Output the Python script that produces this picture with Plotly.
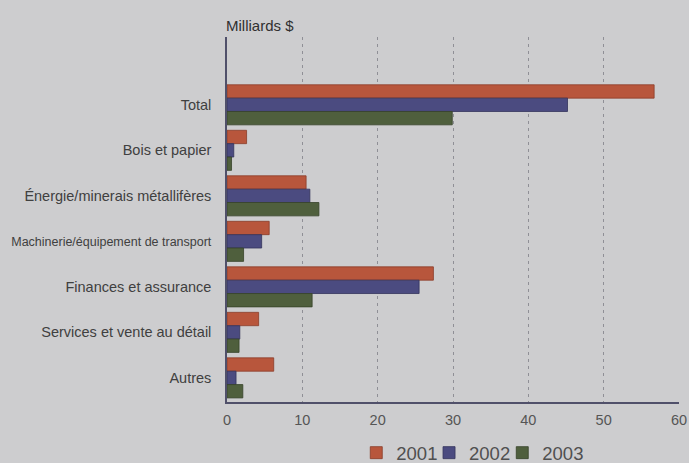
import plotly.graph_objects as go

categories = ["Total", "Bois et papier", "Énergie/minerais métallifères",
              "Machinerie/équipement de transport", "Finances et assurance",
              "Services et vente au détail", "Autres"]
tick_labels = ["Total", "Bois et papier", "Énergie/minerais métallifères",
               "<span style='font-size:12.5px'>Machinerie/équipement de transport</span>",
               "Finances et assurance", "Services et vente au détail", "Autres"]
years = ["2001", "2002", "2003"]
v2001 = [56.7, 2.6, 10.5, 5.6, 27.4, 4.2, 6.2]
v2002 = [45.2, 0.9, 11.0, 4.6, 25.5, 1.7, 1.2]
v2003 = [29.9, 0.6, 12.2, 2.2, 11.3, 1.6, 2.1]
x_ticks = [0, 10, 20, 30, 40, 50, 60]

colors = ["#b8563c", "#4b4b80", "#4f5f3d"]
edges = ["#8a3c28", "#33335c", "#36422a"]
bg = "#cdcdcf"
legend_ids = ["legend", "legend2", "legend3"]
legend_x = [0.286, 0.447, 0.609]

fig = go.Figure()
for yr, vals, c, e, lid in zip(years, [v2001, v2002, v2003], colors, edges, legend_ids):
    fig.add_trace(go.Bar(y=categories, x=vals, name=yr, orientation="h", legend=lid,
                         showlegend=True,
                         marker=dict(color=c, line=dict(color=e, width=0.8))))

legend_common = dict(orientation="h", xanchor="left", y=-0.088, yanchor="top",
                     font=dict(size=18.5, color="#505050"), bgcolor="rgba(0,0,0,0)",
                     itemwidth=30, visible=True)

fig.update_layout(
    width=689, height=463, showlegend=True,
    margin=dict(l=227, r=10, t=37, b=61, autoexpand=False),
    paper_bgcolor=bg, plot_bgcolor=bg,
    barmode="group", bargap=0.12, bargroupgap=0,
    font=dict(family="Liberation Sans, Arial, sans-serif", color="#404040", size=14.5),
    xaxis=dict(range=[0, 60], tickvals=x_ticks, showgrid=True, gridcolor="#8f8f96",
               griddash="3px,4px", gridwidth=0.8, zeroline=False, showline=True,
               linecolor="#50506a", linewidth=1.5, ticks="", ticklabelstandoff=4,
               tickfont=dict(size=14.5, color="#555555")),
    yaxis=dict(categoryorder="array", categoryarray=categories,
               tickvals=categories, ticktext=tick_labels,
               range=[6.53, -1.49], showline=True, linecolor="#50506a", linewidth=1.5,
               ticks="", ticklabelstandoff=11,
               tickfont=dict(size=14.5, color="#404040")),
    legend=dict(x=legend_x[0], **legend_common),
    legend2=dict(x=legend_x[1], **legend_common),
    legend3=dict(x=legend_x[2], **legend_common),
    annotations=[dict(text="Milliards $", x=0, xref="paper", y=1, yref="paper",
                      xanchor="left", yanchor="middle", yshift=12, xshift=-3,
                      showarrow=False, font=dict(size=15, color="#303030"))],
)

fig.write_html("out.html", config={"displayModeBar": False},
               post_script="document.body.style.margin='0';document.body.style.background='#cdcdcf';")
